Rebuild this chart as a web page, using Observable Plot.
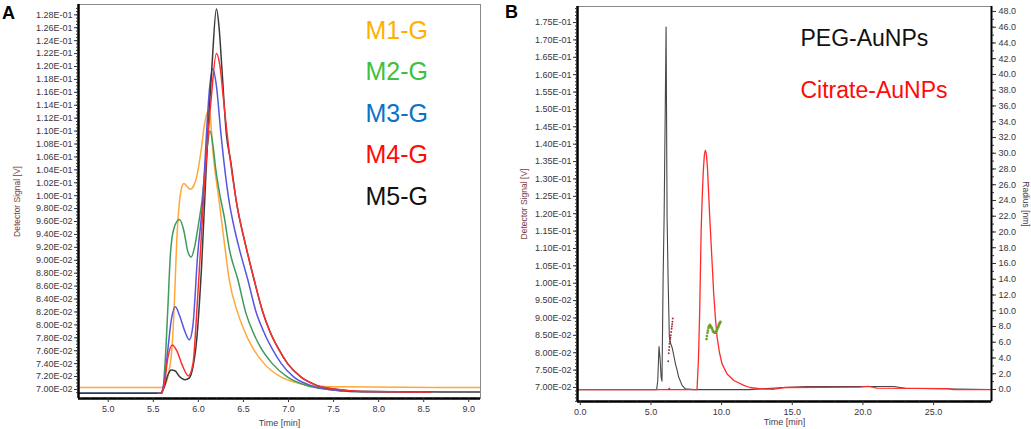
<!DOCTYPE html>
<html><head><meta charset="utf-8">
<script src="https://cdn.jsdelivr.net/npm/d3@7"></script>
<script src="https://cdn.jsdelivr.net/npm/@observablehq/plot@0.6"></script>
<style>
body{margin:0;background:#fff;}
#wrap{position:relative;width:1031px;height:429px;overflow:hidden;font-family:"Liberation Sans",Arial,sans-serif;}
#a,#b{position:absolute;top:0;}
#a{left:0}#b{left:500px}
.panel{position:absolute;font-weight:bold;font-size:18px;line-height:18px;color:#000;}
</style></head><body>
<div id="wrap"><div id="a"></div><div id="b"></div>
<div class="panel" style="left:2px;top:4px">A</div>
<div class="panel" style="left:505px;top:3px">B</div></div>
<script>
// ---------- Panel A data ----------
const seriesA = ["M1-G", "M2-G", "M3-G", "M4-G", "M5-G"];
const m1Time = [4.67, 5.60, 5.62, 5.67, 5.71, 5.73, 5.76, 5.79, 5.82, 5.84, 5.87, 5.91, 5.95, 5.99, 6.03, 6.07, 6.11, 6.13, 6.16, 6.23, 6.29, 6.34, 6.44, 6.51, 6.60, 6.73, 6.92, 7.10, 7.35, 7.6, 9.13];
const m1Signal = [0.0703, 0.0703, 0.0705, 0.0725, 0.0770, 0.0822, 0.0930, 0.0990, 0.1015, 0.1019, 0.1015, 0.1010, 0.1016, 0.1035, 0.1070, 0.1112, 0.1132, 0.1125, 0.1070, 0.0992, 0.0925, 0.0872, 0.0817, 0.0791, 0.0765, 0.0740, 0.0719, 0.0710, 0.0705, 0.0704, 0.0703];
const m2Time = [4.67, 5.60, 5.63, 5.66, 5.69, 5.73, 5.79, 5.84, 5.88, 5.92, 5.96, 6.00, 6.04, 6.08, 6.13, 6.16, 6.19, 6.24, 6.29, 6.34, 6.44, 6.53, 6.60, 6.69, 6.82, 6.99, 7.2, 7.45, 7.7, 8.57];
const m2Signal = [0.0694, 0.0694, 0.0740, 0.0822, 0.0910, 0.0950, 0.0963, 0.0945, 0.0915, 0.0905, 0.0922, 0.0955, 0.0992, 0.1050, 0.1100, 0.1080, 0.1044, 0.1000, 0.0965, 0.0920, 0.0869, 0.0817, 0.0791, 0.0765, 0.0740, 0.0719, 0.0706, 0.0700, 0.0697, 0.0696];
const m3Time = [4.67, 5.58, 5.62, 5.66, 5.70, 5.745, 5.79, 5.85, 5.90, 5.94, 5.99, 6.05, 6.09, 6.12, 6.16, 6.20, 6.25, 6.34, 6.38, 6.45, 6.55, 6.64, 6.72, 6.81, 6.92, 7.06, 7.25, 7.45, 7.7, 8.57];
const m3Signal = [0.0694, 0.0694, 0.0712, 0.0760, 0.0808, 0.0828, 0.0815, 0.0790, 0.0777, 0.0800, 0.0905, 0.0995, 0.1096, 0.1160, 0.1196, 0.1170, 0.1096, 0.0992, 0.0962, 0.0920, 0.0869, 0.0820, 0.0791, 0.0765, 0.0740, 0.0719, 0.0706, 0.0700, 0.0697, 0.0696];
const m4Time = [5.55, 5.58, 5.62, 5.66, 5.71, 5.76, 5.82, 5.89, 5.94, 5.99, 6.06, 6.14, 6.20, 6.24, 6.28, 6.34, 6.42, 6.53, 6.62, 6.71, 6.79, 6.88, 6.99, 7.14, 7.32, 7.55, 7.8, 8.57];
const m4Signal = [0.0694, 0.0694, 0.0706, 0.0748, 0.0769, 0.0760, 0.0738, 0.0721, 0.0740, 0.0838, 0.1000, 0.1147, 0.1220, 0.1200, 0.1147, 0.1070, 0.0992, 0.0920, 0.0869, 0.0822, 0.0791, 0.0765, 0.0740, 0.0719, 0.0706, 0.0700, 0.0697, 0.0696];
const m5Time = [4.67, 5.58, 5.62, 5.66, 5.70, 5.74, 5.79, 5.85, 5.90, 5.94, 5.98, 6.035, 6.105, 6.15, 6.20, 6.23, 6.26, 6.31, 6.36, 6.42, 6.53, 6.62, 6.71, 6.79, 6.88, 6.99, 7.14, 7.32, 7.55, 7.8, 9.13];
const m5Signal = [0.0694, 0.0694, 0.0703, 0.0722, 0.0730, 0.0729, 0.0720, 0.0715, 0.0718, 0.0735, 0.0775, 0.0889, 0.1096, 0.1199, 0.1289, 0.1260, 0.1199, 0.1096, 0.1052, 0.0992, 0.0920, 0.0869, 0.0822, 0.0791, 0.0765, 0.0740, 0.0719, 0.0706, 0.0700, 0.0697, 0.0696];
const lineColorsA = ["#ffa83a", "#3f9a5c", "#5656e0", "#ff2e2e", "#3a3a3a"];
const textColorsA = ["#ffb000", "#3fbf3f", "#0b72c8", "#ff0a0a", "#111111"];
const xTicksA = [5.0, 5.5, 6.0, 6.5, 7.0, 7.5, 8.0, 8.5, 9.0];
const yTicksA = [0.070, 0.072, 0.074, 0.076, 0.078, 0.080, 0.082, 0.084, 0.086, 0.088, 0.090, 0.092, 0.094, 0.096, 0.098, 0.100, 0.102, 0.104, 0.106, 0.108, 0.110, 0.112, 0.114, 0.116, 0.118, 0.120, 0.122, 0.124, 0.126, 0.128];
const xDomainA = [4.67, 9.13];
const yDomainA = [0.0686, 0.1296];

// ---------- Panel B data ----------
const seriesB = ["PEG-AuNPs", "Citrate-AuNPs"];
const pegTime = [-0.2, 5.40, 5.48, 5.57, 5.65, 5.72, 5.78, 5.86, 5.93, 6.07, 6.14, 6.21, 6.30, 6.40, 6.49, 6.60, 6.73, 6.85, 6.96, 7.20, 7.44, 8.0, 12.0, 14.4, 16.0, 22.2, 23.0, 29.1];
const pegSignal = [0.0694, 0.0694, 0.0720, 0.0818, 0.0780, 0.0730, 0.0718, 0.1017, 0.1190, 0.1737, 0.1190, 0.1017, 0.0845, 0.0825, 0.0816, 0.0795, 0.0768, 0.0750, 0.0730, 0.0706, 0.0696, 0.0694, 0.0694, 0.0700, 0.0703, 0.0703, 0.0698, 0.0694];
const citrateTime = [-0.2, 8.26, 8.36, 8.45, 8.55, 8.62, 8.70, 8.78, 8.85, 8.92, 9.00, 9.16, 9.30, 9.44, 9.56, 9.68, 9.85, 10.03, 10.39, 10.86, 11.57, 12.0, 12.8, 13.7, 14.5, 19.8, 20.4, 21.0, 26.0, 26.4, 29.1];
const citrateSignal = [0.0694, 0.0694, 0.0780, 0.0922, 0.1150, 0.1240, 0.1320, 0.1370, 0.1382, 0.1372, 0.1330, 0.1190, 0.1080, 0.0970, 0.0900, 0.0845, 0.0800, 0.0768, 0.0739, 0.0720, 0.0706, 0.0700, 0.0696, 0.0695, 0.0700, 0.0701, 0.0703, 0.0698, 0.0697, 0.0694, 0.0694];
const pegRadiusTime = [6.22, 6.26, 6.28, 6.30, 6.31, 6.33, 6.35, 6.37, 6.40, 6.43, 6.46, 6.48, 6.50, 6.52, 6.54, 6.30];
const pegRadius = [3.6, 4.6, 5.0, 5.4, 5.8, 6.1, 6.4, 6.6, 6.9, 7.3, 7.7, 8.0, 8.3, 8.6, 9.0, 0.1];
const citrateRadiusTime = [8.93, 8.96, 9.0, 9.03, 9.07, 9.10, 9.13, 9.17, 9.2, 9.23, 9.27, 9.3, 9.33, 9.37, 9.4, 9.43, 9.47, 9.5, 9.54, 9.57, 9.6, 9.63, 9.67, 9.7, 9.74, 9.77, 9.8, 9.83, 9.86, 9.89, 9.92];
const citrateRadius = [6.4, 6.8, 7.2, 7.5, 7.8, 8.0, 8.1, 8.2, 8.1, 8.0, 7.9, 7.8, 7.7, 7.5, 7.4, 7.3, 7.3, 7.2, 7.2, 7.2, 7.3, 7.4, 7.6, 7.7, 7.9, 8.0, 8.2, 8.3, 8.4, 8.5, 8.6];
const xTicksB = [0, 5, 10, 15, 20, 25];
const yTicksB = [0.070, 0.075, 0.080, 0.085, 0.090, 0.095, 0.100, 0.105, 0.110, 0.115, 0.120, 0.125, 0.130, 0.135, 0.140, 0.145, 0.150, 0.155, 0.160, 0.165, 0.170, 0.175];
const radiusTicks = [0, 2, 4, 6, 8, 10, 12, 14, 16, 18, 20, 22, 24, 26, 28, 30, 32, 34, 36, 38, 40, 42, 44, 46, 48];
const xDomainB = [-0.2, 29.1];
const yDomainB = [0.06597, 0.17961];
const radiusDomain = [-1.524, 48.63];

// ---------- helpers ----------
const FONT = "'Liberation Sans', Arial, sans-serif";
const TICKCOL = "#3a3540";
const fmtE = d => { const [m, e] = d.toExponential(2).split("e"); const n = +e; return m + "E" + (n < 0 ? "-" : "+") + String(Math.abs(n)).padStart(2, "0"); };
const toV = r => yDomainB[0] + (r - radiusDomain[0]) / (radiusDomain[1] - radiusDomain[0]) * (yDomainB[1] - yDomainB[0]);
const fromV = v => radiusDomain[0] + (v - yDomainB[0]) / (yDomainB[1] - yDomainB[0]) * (radiusDomain[1] - radiusDomain[0]);
const zip = (ts, vs, extra) => ts.map((t, i) => ({t, v: vs[i], ...extra}));

const timesA = [m1Time, m2Time, m3Time, m4Time, m5Time];
const signalsA = [m1Signal, m2Signal, m3Signal, m4Signal, m5Signal];
const drawOrderA = [0, 1, 2, 4, 3];

const yMinorA = d3.range(0.0695, 0.1295, 0.0005);
const xMinorA = d3.range(4.7, 9.15, 0.1);

const plotA = Plot.plot({
  width: 500, height: 429,
  marginLeft: 78, marginRight: 20, marginTop: 4, marginBottom: 31,
  x: {domain: xDomainA, axis: null},
  y: {domain: yDomainA, axis: null},
  style: {fontFamily: FONT, background: "transparent", overflow: "visible"},
  marks: [
    Plot.frame({stroke: "#8a8a8a", strokeWidth: 1}),
    ...drawOrderA.map(i => Plot.line(zip(timesA[i], signalsA[i]), {x: "t", y: "v", stroke: lineColorsA[i], strokeWidth: 1.5, curve: "monotone-x", clip: true})),
    Plot.ruleX([xDomainA[0]], {stroke: "#000", strokeWidth: 2.5}),
    Plot.ruleY([yDomainA[0]], {stroke: "#000", strokeWidth: 2.5}),
    Plot.axisY(yMinorA, {tickSize: 2, tickFormat: () => "", label: null, stroke: "#333"}),
    Plot.axisY(yTicksA, {tickSize: 4, tickPadding: 2, tickFormat: fmtE, fontSize: 9, fill: TICKCOL, stroke: "#333", label: null}),
    Plot.axisX(xMinorA, {tickSize: 2, tickFormat: () => "", label: null, stroke: "#333"}),
    Plot.axisX(xTicksA, {tickSize: 4, tickPadding: 3, tickFormat: d => d.toFixed(1), fontSize: 9, fill: TICKCOL, stroke: "#333", label: null}),
    Plot.text(["Detector Signal [V]"], {text: d => d, frameAnchor: "left", dx: -61, rotate: -90, fontSize: 8.5, fill: "#7a3e3e", textAnchor: "middle", lineAnchor: "middle"}),
    Plot.text(["Time [min]"], {text: d => d, frameAnchor: "bottom", dy: 25, fontSize: 9, fill: "#4b3b55", textAnchor: "middle", lineAnchor: "middle"}),
    ...seriesA.map((s, i) => Plot.text([s], {text: d => d, frameAnchor: "top-left", dx: 287, dy: 26 + 41.5 * i, fontSize: 25, fill: textColorsA[i], textAnchor: "start", lineAnchor: "middle"}))
  ]
});
document.getElementById("a").append(plotA);

const yMinorB = d3.range(0.066, 0.1795, 0.001);
const xMinorB = d3.range(0, 29.1, 1);
const rMinor = d3.range(0, 48.6, 1);
const textColorsB = ["#111111", "#ff0a0a"];

const plotB = Plot.plot({
  width: 531, height: 429,
  marginLeft: 77, marginRight: 40, marginTop: 6, marginBottom: 28,
  x: {domain: xDomainB, axis: null},
  y: {domain: yDomainB, axis: null},
  style: {fontFamily: FONT, background: "transparent", overflow: "visible"},
  marks: [
    Plot.frame({stroke: "#8a8a8a", strokeWidth: 1}),
    Plot.line(zip(pegTime, pegSignal), {x: "t", y: "v", stroke: "#474747", strokeWidth: 1.1, clip: true}),
    Plot.line(zip(citrateTime, citrateSignal), {x: "t", y: "v", stroke: "#ff2b2b", strokeWidth: 1.3, clip: true}),
    Plot.dot(zip(pegRadiusTime, pegRadius), {x: "t", y: d => toV(d.v), r: 1, fill: "#a8323a", stroke: "none"}),
    Plot.dot(zip(citrateRadiusTime, citrateRadius), {x: "t", y: d => toV(d.v), r: 1.3, fill: "#6c9f2c", stroke: "none"}),
    Plot.ruleX([xDomainB[0]], {stroke: "#000", strokeWidth: 2.5}),
    Plot.ruleX([xDomainB[1]], {stroke: "#000", strokeWidth: 2}),
    Plot.ruleY([yDomainB[0]], {stroke: "#000", strokeWidth: 2.5}),
    Plot.axisY(yMinorB, {tickSize: 2, tickFormat: () => "", label: null, stroke: "#333"}),
    Plot.axisY(yTicksB, {tickSize: 4, tickPadding: 2, tickFormat: fmtE, fontSize: 9, fill: TICKCOL, stroke: "#333", label: null}),
    Plot.axisY(rMinor.map(toV), {anchor: "right", tickSize: 2, tickFormat: () => "", label: null, stroke: "#333"}),
    Plot.axisY(radiusTicks.map(toV), {anchor: "right", tickSize: 4, tickPadding: 3, tickFormat: d => Math.abs(fromV(d)).toFixed(1), fontSize: 9, fill: TICKCOL, stroke: "#333", label: null}),
    Plot.axisX(xMinorB, {tickSize: 2, tickFormat: () => "", label: null, stroke: "#333"}),
    Plot.axisX(xTicksB, {tickSize: 4, tickPadding: 3, tickFormat: d => d.toFixed(1), fontSize: 9, fill: TICKCOL, stroke: "#333", label: null}),
    Plot.text(["Detector Signal [V]"], {text: d => d, frameAnchor: "left", dx: -53, rotate: -90, fontSize: 8.5, fill: "#7a3e3e", textAnchor: "middle", lineAnchor: "middle"}),
    Plot.text(["Radius [nm]"], {text: d => d, frameAnchor: "right", dx: 34, rotate: 90, fontSize: 8.5, fill: "#4b3b55", textAnchor: "middle", lineAnchor: "middle"}),
    Plot.text(["Time [min]"], {text: d => d, frameAnchor: "bottom", dy: 21, fontSize: 9, fill: "#4b3b55", textAnchor: "middle", lineAnchor: "middle"}),
    ...seriesB.map((s, i) => Plot.text([s], {text: d => d, frameAnchor: "top-left", dx: 223, dy: 32 + 52 * i, fontSize: 23, fill: textColorsB[i], textAnchor: "start", lineAnchor: "middle"}))
  ]
});
document.getElementById("b").append(plotB);
</script></body></html>
